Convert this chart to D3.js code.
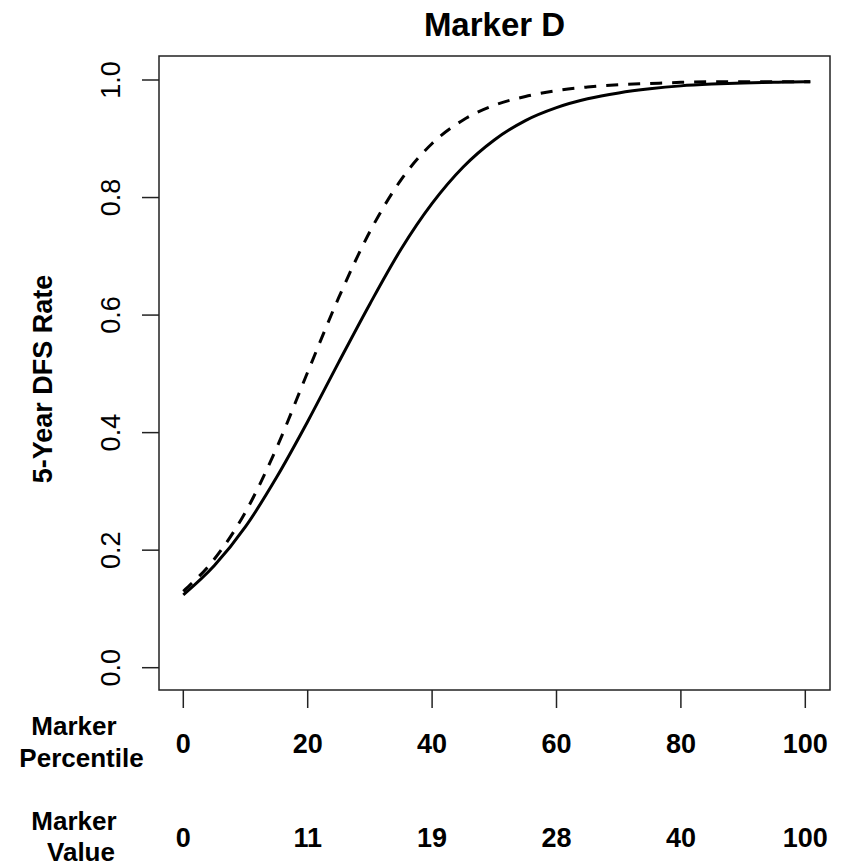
<!DOCTYPE html>
<html>
<head>
<meta charset="utf-8">
<script src="https://cdn.jsdelivr.net/npm/d3@7"></script>
<style>
html,body{margin:0;padding:0;background:#fff;}
svg text{font-family:"Liberation Sans",Arial,Helvetica,sans-serif;fill:#000;}
</style>
</head>
<body>
<svg id="chart" width="846" height="866"></svg>
<script>
// ---- data ----
const percentiles = [0,5,10,15,20,25,30,35,40,45,50,55,60,65,70,75,80,85,90,95,100,100.8];
const solidRate  = [0.124,0.174,0.24,0.324,0.419,0.52,0.619,0.712,0.79,0.852,0.898,0.931,0.953,0.968,0.978,0.985,0.99,0.993,0.995,0.996,0.997,0.997];
const dashedRate = [0.13,0.185,0.265,0.374,0.503,0.63,0.742,0.83,0.892,0.932,0.957,0.972,0.982,0.988,0.992,0.994,0.996,0.997,0.997,0.997,0.997,0.997];
const xTicks = [0,20,40,60,80,100];
const markerValueLabels = ["0","11","19","28","40","100"];
const yTicks = [0,0.2,0.4,0.6,0.8,1.0];
const title = "Marker D";
const yLabel = "5-Year DFS Rate";

// ---- layout ----
const svg = d3.select("#chart");
const box = {left:159, right:830, top:56, bottom:690};
const x = d3.scaleLinear().domain([0,100]).range([183.3,805.3]);
const y = d3.scaleLinear().domain([0,1]).range([667.7,80]);

// plot box
svg.append("rect")
  .attr("x",box.left).attr("y",box.top)
  .attr("width",box.right-box.left).attr("height",box.bottom-box.top)
  .attr("fill","none").attr("stroke","#222").attr("stroke-width",1.5);

// x ticks
svg.append("g").selectAll("line").data(xTicks).join("line")
  .attr("x1",d=>x(d)).attr("x2",d=>x(d))
  .attr("y1",box.bottom).attr("y2",708)
  .attr("stroke","#222").attr("stroke-width",1.5);

// x tick labels (percentile row)
svg.append("g").selectAll("text").data(xTicks).join("text")
  .attr("x",d=>x(d)).attr("y",753)
  .attr("text-anchor","middle")
  .attr("font-size",27).attr("font-weight","bold")
  .text(d=>d);

// marker value row
svg.append("g").selectAll("text").data(markerValueLabels).join("text")
  .attr("x",(d,i)=>x(xTicks[i])).attr("y",847)
  .attr("text-anchor","middle")
  .attr("font-size",27).attr("font-weight","bold")
  .text(d=>d);

// row captions
const captions = [
  {t:"Marker", cx:74, y:735},
  {t:"Percentile", cx:81.5, y:767},
  {t:"Marker", cx:74, y:830},
  {t:"Value", cx:81, y:861}
];
svg.append("g").selectAll("text").data(captions).join("text")
  .attr("x",d=>d.cx).attr("y",d=>d.y)
  .attr("text-anchor","middle")
  .attr("font-size",26).attr("font-weight","bold")
  .text(d=>d.t);

// y ticks
svg.append("g").selectAll("line").data(yTicks).join("line")
  .attr("x1",142).attr("x2",box.left)
  .attr("y1",d=>y(d)).attr("y2",d=>y(d))
  .attr("stroke","#222").attr("stroke-width",1.5);

svg.append("g").selectAll("text").data(yTicks).join("text")
  .attr("transform",d=>`translate(120,${y(d)}) rotate(-90)`)
  .attr("text-anchor","middle")
  .attr("font-size",27)
  .text(d=>d.toFixed(1));

// y label
svg.append("text")
  .attr("transform",`translate(52,${(box.top+box.bottom)/2+6}) rotate(-90)`)
  .attr("text-anchor","middle")
  .attr("font-size",27).attr("font-weight","bold")
  .text(yLabel);

// title
svg.append("text")
  .attr("x",(box.left+box.right)/2).attr("y",36)
  .attr("text-anchor","middle")
  .attr("font-size",33).attr("font-weight","bold")
  .text(title);

// curves
const line = d3.line().curve(d3.curveMonotoneX)
  .x(d=>x(d[0])).y(d=>y(d[1]));
const solidData = percentiles.map((p,i)=>[p,solidRate[i]]);
const dashedData = percentiles.map((p,i)=>[p,dashedRate[i]]);

svg.append("path").datum(dashedData)
  .attr("d",line).attr("fill","none")
  .attr("stroke","#000").attr("stroke-width",3)
  .attr("stroke-dasharray","12,10");
svg.append("path").datum(solidData)
  .attr("d",line).attr("fill","none")
  .attr("stroke","#000").attr("stroke-width",3);
</script>
</body>
</html>
